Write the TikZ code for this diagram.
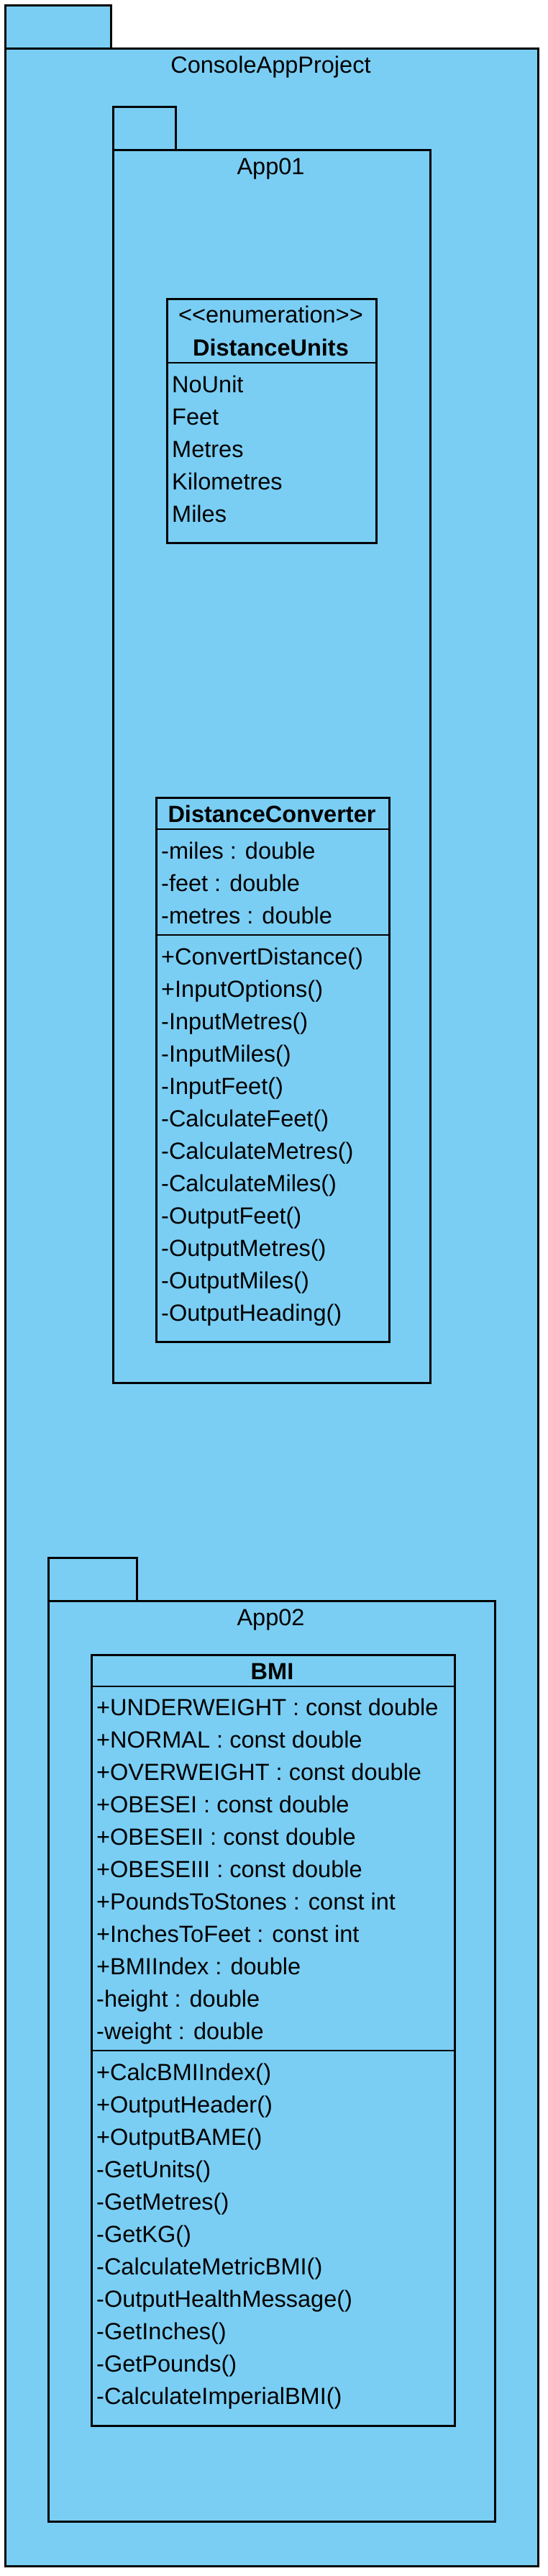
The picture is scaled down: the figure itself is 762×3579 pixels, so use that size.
\documentclass[tikz,border=0pt]{standalone}
\usepackage{fontspec}
\setmainfont{Liberation Sans}
\usetikzlibrary{positioning}

\definecolor{pkgblue}{RGB}{122,206,244}

\begin{document}
\begin{tikzpicture}[
  x=1pt, y=-1pt,
  pkg/.style={rectangle, draw=black, fill=pkgblue, line width=2.8pt, inner sep=0pt, anchor=north west},
  classbox/.style={rectangle, draw=black, fill=pkgblue, line width=2.8pt, inner sep=0pt, anchor=north west},
  sepline/.style={line width=2.8pt},
  pkglabel/.style={font=\fontsize{32.5}{45}\selectfont, inner sep=0pt, anchor=base},
  classname/.style={font=\fontsize{32.5}{45}\selectfont\bfseries, inner sep=0pt, anchor=base},
  memberlist/.style={font=\fontsize{32.5}{45}\selectfont, inner sep=0pt, anchor=base west, align=left}
]

\useasboundingbox (0,0) rectangle (762,3579);

% Outer package
\node[pkg, minimum width=147pt, minimum height=60pt] (outer_tab) at (6,6) {};
\node[pkg, minimum width=741pt, minimum height=3498pt] (outer_body) at (6,66) {};
\node[pkglabel] (outer_name) at (376.5,101) {ConsoleAppProject};

% Package App01
\node[pkg, minimum width=87pt, minimum height=60pt] (app01_tab) at (156,147) {};
\node[pkg, minimum width=441pt, minimum height=1713pt] (app01_body) at (156,207) {};
\node[pkglabel] (app01_name) at (376.5,242) {App01};

% Enumeration DistanceUnits (member lists sit on their last baseline)
\node[classbox, minimum width=291pt, minimum height=339pt] (units_box) at (231,414) {};
\draw[sepline] ([yshift=-90pt]units_box.north west) -- ([yshift=-90pt]units_box.north east);
\node[pkglabel] (units_stereo) at (376.5,448) {<\kern0pt<enumeration>\kern0pt>};
\node[classname] (units_name) at (376.5,494) {DistanceUnits};
\node[memberlist] (units_items) at (239,725) {NoUnit\\Feet\\Metres\\Kilometres\\Miles};

% Class DistanceConverter
\node[classbox, minimum width=324pt, minimum height=756pt] (conv_box) at (216,1107) {};
\draw[sepline] ([yshift=-45pt]conv_box.north west) -- ([yshift=-45pt]conv_box.north east);
\draw[sepline] ([yshift=-192pt]conv_box.north west) -- ([yshift=-192pt]conv_box.north east);
\node[classname] (conv_name) at (378,1142) {DistanceConverter};
\node[memberlist] (conv_attrs) at (224,1283) {-miles : double\\-feet : double\\-metres : double};
\node[memberlist] (conv_ops) at (224,1835) {+ConvertDistance()\\+InputOptions()\\-InputMetres()\\-InputMiles()\\-InputFeet()\\-CalculateFeet()\\-CalculateMetres()\\-CalculateMiles()\\-OutputFeet()\\-OutputMetres()\\-OutputMiles()\\-OutputHeading()};

% Package App02
\node[pkg, minimum width=123pt, minimum height=60pt] (app02_tab) at (66,2163) {};
\node[pkg, minimum width=621pt, minimum height=1279pt] (app02_body) at (66,2223) {};
\node[pkglabel] (app02_name) at (376.5,2258) {App02};

% Class BMI
\node[classbox, minimum width=505pt, minimum height=1071pt] (bmi_box) at (126,2298) {};
\draw[sepline] ([yshift=-45pt]bmi_box.north west) -- ([yshift=-45pt]bmi_box.north east);
\draw[sepline] ([yshift=-551pt]bmi_box.north west) -- ([yshift=-551pt]bmi_box.north east);
\node[classname] (bmi_name) at (378.5,2333) {BMI};
\node[memberlist] (bmi_attrs) at (134,2833) {+UNDERWEIGHT : const double\\+NORMAL : const double\\+OVERWEIGHT : const double\\+OBESEI : const double\\+OBESEII : const double\\+OBESEIII : const double\\+PoundsToStones : const int\\+InchesToFeet : const int\\+BMIIndex : double\\-height : double\\-weight : double};
\node[memberlist] (bmi_ops) at (134,3340) {+CalcBMIIndex()\\+OutputHeader()\\+OutputBAME()\\-GetUnits()\\-GetMetres()\\-GetKG()\\-CalculateMetricBMI()\\-OutputHealthMessage()\\-GetInches()\\-GetPounds()\\-CalculateImperialBMI()};

\end{tikzpicture}
\end{document}
